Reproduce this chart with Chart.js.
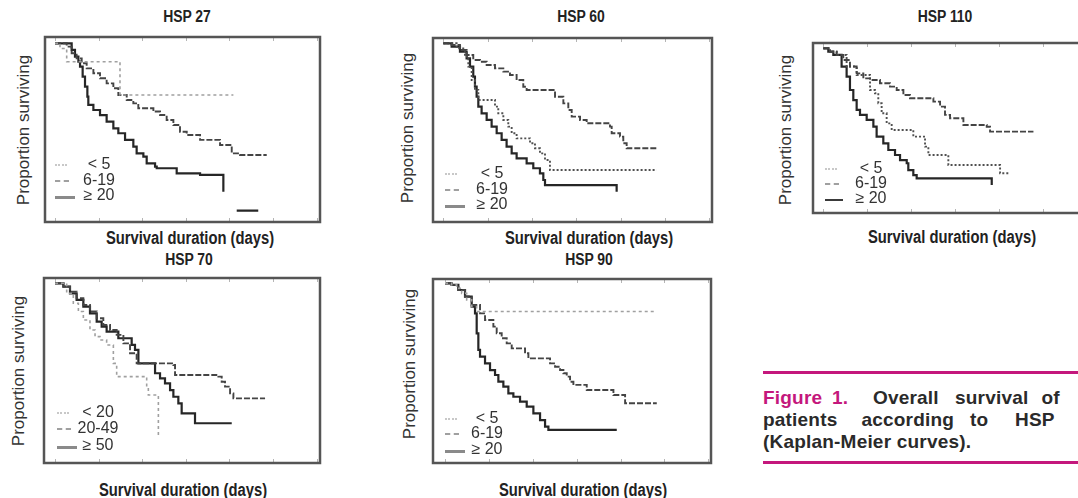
<!DOCTYPE html>
<html>
<head>
<meta charset="utf-8">
<script src="https://cdn.jsdelivr.net/npm/chart.js@4/dist/chart.umd.min.js"></script>
<style>
  body { margin: 0; width: 1078px; height: 498px; overflow: hidden; background: #fff; position: relative;
         font-family: "Liberation Sans", Arial, sans-serif; }
  canvas { position: absolute; }
  .t { position: absolute; white-space: nowrap; color: #222; line-height: 1; }
  .title { font-weight: bold; font-size: 16px; transform: translate(-50%, -50%) scaleX(0.87); }
  .xlab { font-weight: bold; font-size: 18px; transform: translate(-50%, -50%) scaleX(0.82); }
  .ylab { font-size: 17px; color: #333; transform: translate(-50%, -50%) rotate(-90deg); }
  .leg { font-size: 16px; color: #333; transform: translate(-50%, -50%); }
  .sw { position: absolute; height: 0; }
  .cap { font-weight: bold; font-size: 19px; color: #2a2a2a; letter-spacing: 0.2px; }
  .mag { color: #c4177c; }
  .rule { position: absolute; left: 763px; width: 320px; height: 3px; background: #c4177c; }
</style>
</head>
<body>
<script>
// survival curves: [days, proportion surviving]
const hsp27_lt5 = [[0,1],[57,0.97],[134,0.895],[745,0.705],[2045,0.705]]
const hsp27_6to19 = [[0,1],[134,0.981],[191,0.943],[248,0.914],[306,0.886],[363,0.857],[440,0.829],[516,0.800],[592,0.771],[669,0.743],[726,0.705],[822,0.676],[898,0.657],[955,0.629],[1128,0.610],[1204,0.590],[1280,0.562],[1357,0.533],[1433,0.495],[1510,0.476],[1663,0.448],[1892,0.419],[2026,0.371],[2121,0.362],[2427,0.362]]
const hsp27_ge20 = [[0,1],[153,1],[191,0.962],[229,0.924],[268,0.895],[287,0.867],[317,0.810],[344,0.752],[371,0.695],[382,0.648],[440,0.619],[516,0.590],[592,0.552],[669,0.514],[726,0.486],[803,0.448],[898,0.410],[936,0.371],[1013,0.352],[1051,0.314],[1147,0.295],[1166,0.286],[1395,0.257],[1663,0.248],[1930,0.152],[2000,null],[2083,0.044],[2330,0.044]]

const hsp60_lt5 = [[0,1],[94,0.990],[188,0.962],[263,0.933],[338,0.905],[414,0.895],[489,0.876],[583,0.857],[677,0.838],[752,0.819],[827,0.790],[902,0.752],[940,0.733],[1260,0.695],[1354,0.657],[1410,0.619],[1448,0.581],[1542,0.562],[1617,0.543],[1880,0.524],[1899,0.486],[1993,0.467],[2030,0.429],[2068,0.400],[2406,0.400]]
const hsp60_6to19 = [[0,1],[150,0.971],[244,0.924],[282,0.867],[320,0.790],[357,0.733],[395,0.676],[583,0.638],[620,0.600],[677,0.562],[733,0.524],[771,0.486],[827,0.457],[978,0.429],[1034,0.400],[1090,0.371],[1147,0.333],[1203,0.276],[2406,0.276]]
const hsp60_ge20 = [[0,1],[94,0.981],[188,0.952],[263,0.914],[301,0.867],[338,0.810],[357,0.752],[376,0.695],[395,0.638],[432,0.600],[489,0.562],[545,0.524],[602,0.486],[658,0.448],[714,0.410],[771,0.371],[827,0.343],[940,0.314],[1015,0.286],[1090,0.257],[1128,0.219],[1147,0.190],[1955,0.152]]

const hsp110_lt5 = [[0,1],[76,0.979],[152,0.959],[227,0.928],[303,0.887],[379,0.845],[455,0.814],[531,0.804],[644,0.784],[758,0.763],[834,0.742],[910,0.711],[985,0.691],[1251,0.670],[1327,0.639],[1383,0.588],[1440,0.567],[1592,0.526],[1857,0.515],[1895,0.485],[2388,0.485]]
const hsp110_6to19 = [[0,1],[76,0.979],[152,0.959],[265,0.887],[379,0.835],[531,0.742],[587,0.722],[625,0.660],[663,0.598],[720,0.536],[777,0.495],[1023,0.454],[1156,0.392],[1194,0.340],[1421,0.278],[2009,0.227],[2122,0.227]]
const hsp110_ge20 = [[0,1],[57,0.979],[114,0.959],[208,0.887],[265,0.825],[303,0.742],[341,0.680],[379,0.619],[417,0.588],[493,0.557],[569,0.515],[606,0.454],[682,0.412],[739,0.371],[815,0.340],[872,0.309],[948,0.289],[966,0.247],[1023,0.216],[1061,0.196],[1914,0.155]]

const hsp70_lt20 = [[0,1],[134,0.943],[210,0.887],[268,0.840],[325,0.792],[401,0.736],[459,0.698],[516,0.679],[592,0.651],[669,0.547],[707,0.472],[1032,0.462],[1051,0.415],[1070,0.368],[1185,0.142]]
const hsp70_20to49 = [[0,1],[96,0.981],[172,0.953],[248,0.915],[325,0.877],[401,0.840],[478,0.802],[554,0.764],[631,0.736],[707,0.708],[784,0.660],[860,0.604],[936,0.547],[1357,0.538],[1376,0.481],[1873,0.472],[1911,0.443],[1949,0.415],[2007,0.377],[2045,0.349],[2408,0.349]]
const hsp70_ge50 = [[0,1],[96,0.981],[172,0.943],[248,0.906],[325,0.868],[401,0.830],[478,0.783],[535,0.755],[592,0.726],[726,0.689],[879,0.651],[917,0.623],[956,0.547],[1147,0.491],[1204,0.462],[1261,0.434],[1319,0.396],[1357,0.358],[1414,0.321],[1452,0.264],[1605,0.208],[2026,0.208]]

const hsp90_lt5 = [[0,1],[76,0.991],[133,0.972],[190,0.943],[247,0.906],[304,0.868],[361,0.840],[2394,0.840]]
const hsp90_6to19 = [[0,1],[76,0.991],[152,0.962],[228,0.925],[304,0.877],[399,0.830],[456,0.792],[551,0.755],[589,0.717],[646,0.689],[703,0.660],[760,0.632],[912,0.604],[950,0.575],[1197,0.547],[1254,0.528],[1311,0.509],[1349,0.491],[1387,0.472],[1425,0.443],[1463,0.425],[1615,0.396],[1919,0.368],[2052,0.321],[2413,0.321]]
const hsp90_ge20 = [[0,1],[76,0.991],[152,0.962],[228,0.925],[304,0.868],[342,0.830],[361,0.717],[380,0.623],[399,0.585],[456,0.547],[513,0.509],[570,0.481],[608,0.443],[665,0.415],[722,0.377],[779,0.358],[855,0.330],[931,0.302],[1007,0.264],[1083,0.226],[1140,0.189],[1178,0.170],[1957,0.170]]

const groups3 = ["< 5", "6-19", "≥ 20"]
const groupsHsp70 = ["< 20", "20-49", "≥ 50"]
const dayTicks = [0, 500, 1000, 1500, 2000, 2500, 3000]

const lineStyles = {
    light: { borderColor: '#a0a0a0', borderWidth: 1.6, borderDash: [3, 3] },
    dashed: { borderColor: '#444', borderWidth: 1.9, borderDash: [6, 2] },
    dotted: { borderColor: '#505050', borderWidth: 1.9, borderDash: [2, 2] },
    solid: { borderColor: '#262626', borderWidth: 2.2, borderDash: [] }
}

// frame = [left, top, right, bottom]; ref = pixel of day 0, day 3000, p=1, p=0
const panels = [
    { title: "HSP 27", frame: [45, 37, 320, 222], ref: [55, 316.7, 43.3, 218.3],
      titleAt: [187, 17], yAt: [23, 130], xAt: [190, 238],
      curves: [[hsp27_lt5, 'light'], [hsp27_6to19, 'dashed'], [hsp27_ge20, 'solid']],
      legend: { labels: groups3, sw: 55, cx: 99, rows: [164, 179.5, 195] } },
    { title: "HSP 60", frame: [433, 38, 712, 222], ref: [443.3, 709.3, 43.3, 218.3],
      titleAt: [581, 17], yAt: [407, 128], xAt: [589, 237.5],
      curves: [[hsp60_lt5, 'dashed'], [hsp60_6to19, 'dotted'], [hsp60_ge20, 'solid']],
      legend: { labels: groups3, sw: 445, cx: 492, rows: [173, 189, 204] } },
    { title: "HSP 110", frame: [813, 43, 1091, 213], ref: [823.3, 1087.3, 48.3, 210],
      titleAt: [945, 17], yAt: [785, 130], xAt: [952, 237],
      curves: [[hsp110_lt5, 'dashed'], [hsp110_6to19, 'dotted'], [hsp110_ge20, 'solid']],
      legend: { labels: groups3, sw: 825, cx: 871, rows: [168, 183, 198], dark: true } },
    { title: "HSP 70", frame: [44, 278, 320, 463], ref: [55, 316.7, 283.3, 460],
      titleAt: [189, 260], yAt: [18, 371], xAt: [183, 490],
      curves: [[hsp70_lt20, 'light'], [hsp70_20to49, 'dashed'], [hsp70_ge50, 'solid']],
      legend: { labels: groupsHsp70, sw: 57, cx: 98, rows: [412, 428, 445] } },
    { title: "HSP 90", frame: [433, 279, 711, 463], ref: [445, 708.3, 283.3, 460],
      titleAt: [589, 260], yAt: [409, 364], xAt: [583, 490],
      curves: [[hsp90_lt5, 'light'], [hsp90_6to19, 'dashed'], [hsp90_ge20, 'solid']],
      legend: { labels: groups3, sw: 445, cx: 487, rows: [418, 433, 449] } }
]

// box round the plot plus faint inner ticks on top and bottom
const framePlugin = {
    id: 'frame',
    afterDraw(chart) {
        const a = chart.chartArea, ctx = chart.ctx
        ctx.save()
        ctx.strokeStyle = '#b5b5b5'
        ctx.lineWidth = 1
        dayTicks.forEach(function (d) {
            let x = Math.round(chart.scales.x.getPixelForValue(d)) + 0.5
            ctx.beginPath()
            ctx.moveTo(x, a.bottom); ctx.lineTo(x, a.bottom - 4)
            ctx.moveTo(x, a.top); ctx.lineTo(x, a.top + 4)
            ctx.stroke()
        })
        ctx.strokeStyle = '#555'
        ctx.lineWidth = 2.5
        ctx.strokeRect(a.left, a.top, a.right - a.left, a.bottom - a.top)
        ctx.restore()
    }
}

function addText(cls, text, x, y) {
    let d = document.createElement('div')
    d.className = 't ' + cls
    d.style.left = x + 'px'
    d.style.top = y + 'px'
    d.textContent = text
    document.body.appendChild(d)
    return d
}

const swatchCss = [
    'border-top:2px dotted #c8c8c8;width:12px',
    'border-top:2px dashed #a0a0a0;width:14px',
    'border-top:3px solid #8a8a8a;width:20px'
]

panels.forEach(function (p) {
    const pad = 3
    const [fl, ft, fr, fb] = p.frame
    const [x0, x3000, y1, y0] = p.ref
    const dayPerPx = 3000 / (x3000 - x0)
    const propPerPx = 1 / (y0 - y1)

    let c = document.createElement('canvas')
    c.width = fr - fl + 2 * pad
    c.height = fb - ft + 2 * pad
    c.style.left = (fl - pad) + 'px'
    c.style.top = (ft - pad) + 'px'
    document.body.appendChild(c)

    new Chart(c, {
        type: 'line',
        data: {
            datasets: p.curves.map(function (cv, i) {
                return Object.assign({
                    label: p.legend.labels[i],
                    data: cv[0].map(pt => ({ x: pt[0], y: pt[1] })),
                    stepped: true,
                    pointRadius: 0,
                    fill: false
                }, lineStyles[cv[1]])
            })
        },
        options: {
            responsive: false,
            animation: false,
            events: [],
            layout: { padding: pad },
            plugins: { legend: { display: false }, tooltip: { enabled: false } },
            scales: {
                x: { type: 'linear', display: false, min: (fl - x0) * dayPerPx, max: (fr - x0) * dayPerPx },
                y: { display: false, min: -(fb - y0) * propPerPx, max: 1 + (y1 - ft) * propPerPx }
            }
        },
        plugins: [framePlugin]
    })

    addText('title', p.title, p.titleAt[0], p.titleAt[1])
    addText('ylab', 'Proportion surviving', p.yAt[0], p.yAt[1])
    addText('xlab', 'Survival duration (days)', p.xAt[0], p.xAt[1])

    p.legend.labels.forEach(function (lab, i) {
        addText('leg', lab, p.legend.cx, p.legend.rows[i])
        let s = document.createElement('div')
        s.className = 'sw'
        let css = swatchCss[i]
        if (i == 2 && p.legend.dark) css = 'border-top:2px solid #3a3a3a;width:18px'
        s.style.cssText = css
        s.style.left = p.legend.sw + 'px'
        s.style.top = (p.legend.rows[i] + (i == 2 ? 1 : 0)) + 'px'
        document.body.appendChild(s)
    })
})

// caption
const captionWords = [
    ["Figure", 763, 388, true], ["1.", 832, 388, true], ["Overall", 873, 388], ["survival", 955, 388], ["of", 1041.5, 388],
    ["patients", 763, 410], ["according", 861.5, 410], ["to", 970, 410], ["HSP", 1015, 410],
    ["(Kaplan-Meier curves).", 763, 431.5]
]
captionWords.forEach(function (w) {
    addText('cap' + (w[3] ? ' mag' : ''), w[0], w[1], w[2])
})
let r1 = document.createElement('div'); r1.className = 'rule'; r1.style.top = '370.5px'; document.body.appendChild(r1)
let r2 = document.createElement('div'); r2.className = 'rule'; r2.style.top = '461px'; document.body.appendChild(r2)
</script>
</body>
</html>
